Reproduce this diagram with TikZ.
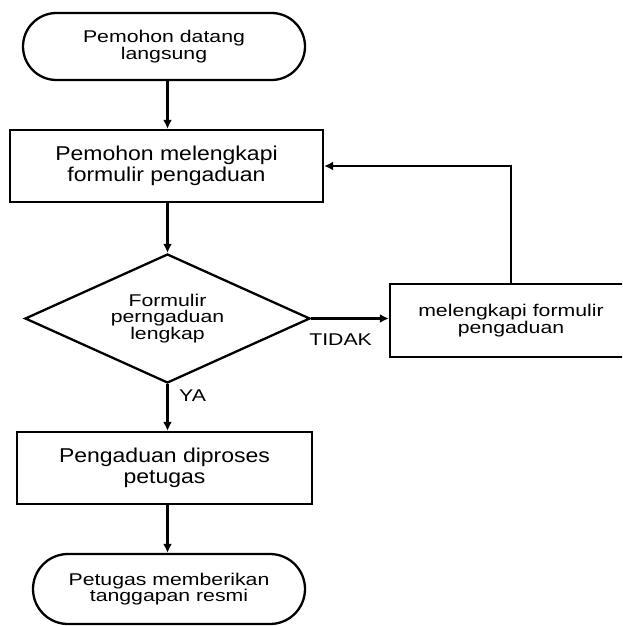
\documentclass[tikz,border=0pt]{standalone}
\usepackage{fontspec}
\setmainfont[FakeStretch=1.25]{Liberation Sans}
\newfontfamily\wideboxfont[FakeStretch=1.15]{Liberation Sans}
\usetikzlibrary{shapes.geometric,arrows.meta}

\begin{document}
\begin{tikzpicture}[
	x=1pt, y=-1pt,
	every node/.style = {align=center, inner sep=0pt,
	font=\fontsize{17}{16.5}\selectfont},
	terminal/.style = {shape=rectangle, draw, line width=2.3pt},
	process/.style = {shape=rectangle, draw, line width=2.3pt},
	bigtext/.style = {font=\wideboxfont\fontsize{20}{20.5}\selectfont},
	decision/.style = {shape=diamond, aspect=2.2, draw, line width=2.3pt},
	answer/.style = {draw=none},
	flow/.style = {line width=2.3pt, -{Latex[length=9pt,width=9pt]}}
]
\useasboundingbox (0,0) rectangle (622,626);
\clip (0,0) rectangle (622,626);

\node[terminal, rounded corners=33.5pt, minimum width=282pt, minimum height=67pt]
	(start) at (164,46.5) {Pemohon datang\\langsung};
\node[process, bigtext, minimum width=313pt, minimum height=72pt]
	(form) at (166.5,166) {Pemohon melengkapi\\formulir pengaduan};
\node[decision, minimum width=285pt, minimum height=129pt]
	(check) at (167.5,318.5) {Formulir\\perngaduan\\lengkap};
\node[process, minimum width=242pt, minimum height=73pt]
	(fix) at (511,320.5) {melengkapi formulir\\pengaduan};
\node[process, bigtext, minimum width=295pt, minimum height=72pt]
	(proc) at (164.5,468) {Pengaduan diproses\\petugas};
\node[terminal, rounded corners=35pt, minimum width=272pt, minimum height=70pt]
	(finish) at (169,589) {Petugas memberikan\\tanggapan resmi};

% main column
\draw[flow] (start.south -| check) -- (form.north -| check);
\draw[flow] (form.south -| check) -- (check.north);
\draw[flow] (check.south) -- (check.south |- proc.north)
	node[answer, pos=0, anchor=north west, xshift=10.5pt, yshift=-4pt] {YA};
\draw[flow] (proc.south -| check) -- (finish.north -| check);

% not complete: back to the form
\draw[flow] (check.east) -- (check.east -| fix.west)
	node[answer, pos=0, anchor=north west, xshift=-3pt, yshift=-14.5pt] {TIDAK};
\draw[flow] (fix.north) |- (form.east);
\end{tikzpicture}
\end{document}
